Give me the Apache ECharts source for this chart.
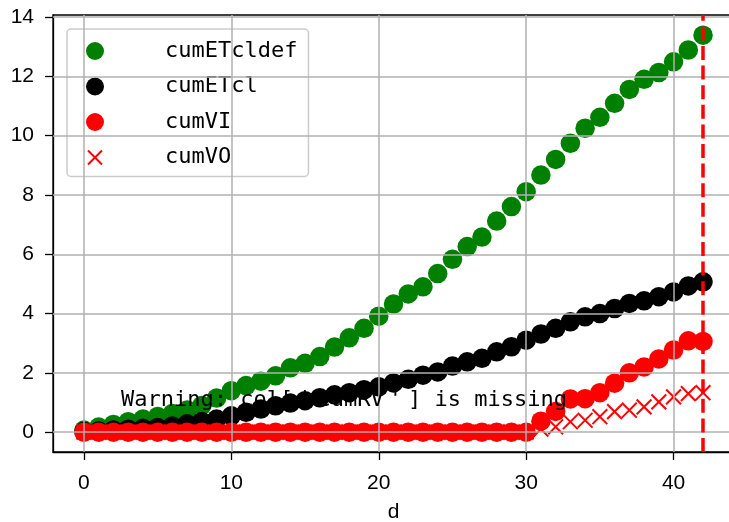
<!DOCTYPE html>
<html>
<head>
<meta charset="utf-8">
<script src="https://cdn.jsdelivr.net/npm/echarts@6/dist/echarts.min.js"></script>
<style>
html,body{margin:0;padding:0;background:#fff;}
#chart{width:729px;height:522px;}
</style>
</head>
<body>
<div id="chart"></div>
<script>
// ---- data ----
var days = [0,1,2,3,4,5,6,7,8,9,10,11,12,13,14,15,16,17,18,19,20,21,22,23,24,25,26,27,28,29,30,31,32,33,34,35,36,37,38,39,40,41,42];
var cumETcldef = [0.07,0.17,0.26,0.35,0.44,0.53,0.63,0.75,0.9,1.15,1.4,1.57,1.72,1.9,2.17,2.32,2.55,2.87,3.18,3.5,3.91,4.32,4.66,4.9,5.35,5.83,6.26,6.58,7.12,7.61,8.11,8.67,9.2,9.74,10.25,10.62,11.09,11.56,11.9,12.13,12.49,12.89,13.39];
var cumETcl = [0.02,0.04,0.07,0.1,0.13,0.16,0.21,0.28,0.36,0.44,0.55,0.67,0.78,0.89,0.98,1.06,1.16,1.26,1.33,1.43,1.53,1.66,1.78,1.92,2.03,2.23,2.37,2.49,2.71,2.88,3.1,3.31,3.5,3.72,3.89,4.0,4.17,4.34,4.43,4.57,4.73,4.93,5.07];
var cumVI = [0,0,0,0,0,0,0,0,0,0,0,0,0,0,0,0,0,0,0,0,0,0,0,0,0,0,0,0,0,0,0,0.37,0.7,1.12,1.13,1.33,1.65,2.0,2.2,2.47,2.77,3.08,3.06];
var cumVO = [0,0,0,0,0,0,0,0,0,0,0,0,0,0,0,0,0,0,0,0,0,0,0,0,0,0,0,0,0,0,0,0.1,0.18,0.35,0.4,0.52,0.69,0.74,0.85,1.02,1.19,1.3,1.33];
var xTicks = [0,10,20,30,40];
var yTicks = [0,2,4,6,8,10,12,14];
var cutoffDay = 42;
var warnParts = ["Warning: col[", "'", "cumRV", "'", "] is missing"];
var xLabel = 'd';

function pairs(vals){ return days.map(function(d,i){ return [d, vals[i]]; }); }

// ---- layout ----
var G = {left:53, top:15, width:681, height:437};
var xMin = -2.1, xMax = 44.1, yMin = -0.67, yMax = 14.07;

var chart = echarts.init(document.getElementById('chart'), null, {renderer:'canvas'});
var crossPath = 'path://M0,0L0.01,0M2,2L16,16M16,2L2,16M18,18L18.01,18';

var gridLines = xTicks.map(function(v){ return {xAxis:v}; }).concat(yTicks.map(function(v){ return {yAxis:v}; }));

var warnRich = warnParts[0] + '{q|' + warnParts[1] + '}' + warnParts[2] + '{q|' + warnParts[3] + '}' + warnParts[4];

var option = {
  animation: false,
  backgroundColor: '#fff',
  grid: {left:G.left, top:G.top, width:G.width, height:G.height, show:true, borderColor:'#000', borderWidth:1.3, backgroundColor:'transparent', containLabel:false, outerBoundsMode:'none'},
  xAxis: {
    type:'value', min:xMin, max:xMax,
    name:xLabel, nameLocation:'middle', nameGap:50,
    nameTextStyle:{fontFamily:'Liberation Sans', fontSize:21, color:'#000'},
    axisLine:{show:true, onZero:false, lineStyle:{color:'#000', width:1.3}},
    axisTick:{show:true, length:8, lineStyle:{color:'#000', width:1.3}, customValues:xTicks},
    axisLabel:{show:true, margin:21, fontFamily:'Liberation Sans', fontSize:21, color:'#000', customValues:xTicks},
    splitLine:{show:false}
  },
  yAxis: {
    type:'value', min:yMin, max:yMax,
    axisLine:{show:true, onZero:false, lineStyle:{color:'#000', width:1.3}},
    axisTick:{show:true, length:8, lineStyle:{color:'#000', width:1.3}, customValues:yTicks},
    axisLabel:{show:true, margin:19, fontFamily:'Liberation Sans', fontSize:21, color:'#000', customValues:yTicks},
    splitLine:{show:false}
  },
  legend: {
    orient:'vertical', left:67, top:29,
    data:['cumETcldef','cumETcl','cumVI','cumVO'],
    selectedMode:false,
    itemWidth:38, itemHeight:18, itemGap:13.5,
    padding:[11,11,8,18],
    backgroundColor:'rgba(255,255,255,0.8)',
    borderColor:'#cccccc', borderWidth:1.5, borderRadius:4,
    textStyle:{fontFamily:'DejaVu Sans Mono', fontSize:22, color:'#000', lineHeight:22, padding:[0,0,0,46]}
  },
  series: [
    {
      type:'scatter', name:'_grid', data:[], z:1, silent:true,
      markLine:{silent:true, symbol:['none','none'], label:{show:false}, animation:false,
        lineStyle:{color:'#b0b0b0', width:1.5, type:'solid'}, emphasis:{disabled:true}, data:gridLines}
    },
    {type:'scatter', name:'cumETcldef', data:pairs(cumETcldef), symbol:'circle', symbolSize:19.5, itemStyle:{color:'#008000', opacity:1}, z:2},
    {type:'scatter', name:'cumETcl', data:pairs(cumETcl), symbol:'circle', symbolSize:19.5, itemStyle:{color:'#000000', opacity:1}, z:2},
    {type:'scatter', name:'cumVI', data:pairs(cumVI), symbol:'circle', symbolSize:19.5, itemStyle:{color:'#ff0000', opacity:1}, z:2},
    {type:'scatter', name:'cumVO', data:pairs(cumVO), symbol:crossPath, symbolSize:19,
      itemStyle:{color:'#ff0000', borderColor:'#ff0000', borderWidth:2, opacity:1}, z:2,
      markLine:{silent:true, symbol:['none','none'], label:{show:false}, animation:false,
        lineStyle:{color:'#ff0000', width:3.5, type:[14,5.6]}, emphasis:{disabled:true},
        data:[{xAxis:cutoffDay}]}
    }
  ],
  graphic: {
    zlevel: 1, z: 100,
    elements: [{
      type:'text', z:100, zlevel:1,
      x: G.left + 0.1*G.width,
      y: G.top + 0.9*G.height - 8,
      style:{text:warnRich, fontFamily:'DejaVu Sans Mono', fontSize:22, fill:'#000', align:'left', verticalAlign:'middle',
        rich:{q:{fontFamily:'DejaVu Sans Mono', fontSize:22, fill:'#000', padding:[0,6,0,5]}}}
    }]
  }
};
chart.setOption(option);
</script>
</body>
</html>
